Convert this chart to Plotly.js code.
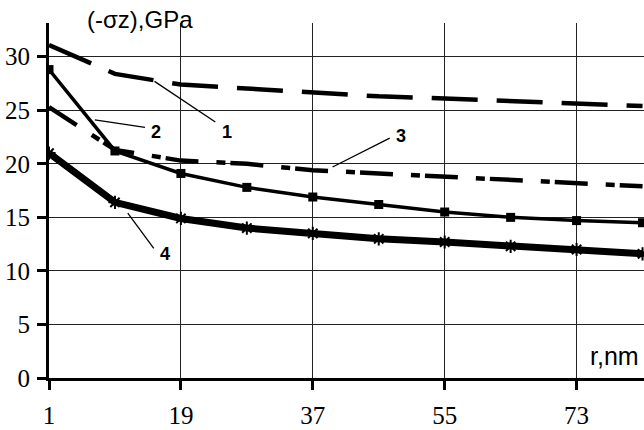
<!DOCTYPE html>
<html>
<head>
<meta charset="utf-8">
<script src="https://cdn.plot.ly/plotly-3.0.1.min.js"></script>
</head>
<body style="margin:0; background:#fff">
<div id="chart"></div>
<script>
// Radius r (nm) sampled every 9 nm
const radius = [1, 10, 19, 28, 37, 46, 55, 64, 73, 82];

// Compressive stress (-σz), GPa, for the four cases
const stress1 = [31.1, 28.4, 27.4, 27.0, 26.6, 26.3, 26.1, 25.9, 25.7, 25.4];
const stress2 = [28.8, 21.2, 19.1, 17.8, 16.9, 16.2, 15.5, 15.0, 14.7, 14.5];
const stress3 = [25.3, 21.3, 20.3, 20.0, 19.4, 19.1, 18.9, 18.5, 18.2, 17.9];
const stress4 = [21.0, 16.4, 14.9, 14.0, 13.5, 13.0, 12.7, 12.3, 12.0, 11.6];

const xTicks = [1, 19, 37, 55, 73];
const yTicks = [0, 5, 10, 15, 20, 25, 30];

// Curve numbers and where their leader lines start/end (data units)
const curveNames = ["1", "2", "3", "4"];
const leaderFrom = [[15.4, 27.7], [7.25, 24.1], [39.7, 19.7], [11.75, 15.4]];
const leaderTo   = [[23.7, 23.9], [14.1, 23.4], [47.5, 22.4], [15.3, 12.1]];
const labelAt    = [[25.3, 23.0], [15.6, 23.0], [49.0, 22.6], [16.8, 11.6]];

const traces = [
  { x: radius, y: stress1, mode: "lines",
    line: { color: "#000", width: 4.5, dash: "46px,19px" } },
  { x: radius, y: stress2, mode: "lines+markers",
    line: { color: "#000", width: 3.5 },
    marker: { symbol: "square", size: 9, color: "#000" } },
  { x: radius, y: stress3, mode: "lines",
    line: { color: "#000", width: 4.5, dash: "33px,18px,9px,5px" } },
  { x: radius, y: stress4, mode: "lines+markers",
    line: { color: "#000", width: 7 },
    marker: { symbol: "asterisk-open", size: 11, color: "#000", line: { width: 2, color: "#000" } } }
];

const shapes = curveNames.map((_, i) => ({
  type: "line", xref: "x", yref: "y",
  x0: leaderFrom[i][0], y0: leaderFrom[i][1],
  x1: leaderTo[i][0], y1: leaderTo[i][1],
  line: { color: "#000", width: 1.3 }
}));

const annotations = curveNames.map((name, i) => ({
  xref: "x", yref: "y", x: labelAt[i][0], y: labelAt[i][1],
  xanchor: "center", yanchor: "middle",
  text: "<b>" + name + "</b>", showarrow: false,
  font: { family: "Liberation Sans", size: 18, color: "#000" }
}));

annotations.push({
  xref: "paper", yref: "paper", x: 0.153, y: 1.01,
  xanchor: "center", yanchor: "middle",
  text: "(-σz),GPa", showarrow: false,
  font: { family: "Liberation Sans", size: 24, color: "#000" }
});
annotations.push({
  xref: "paper", yref: "paper", x: 0.95, y: 0.063,
  xanchor: "center", yanchor: "middle",
  text: "r,nm", showarrow: false,
  font: { family: "Liberation Sans", size: 25, color: "#000" }
});

const layout = {
  width: 644, height: 430,
  margin: { l: 49, r: 0, t: 23, b: 52 },
  paper_bgcolor: "#fff", plot_bgcolor: "#fff",
  showlegend: false,
  xaxis: {
    range: [1, 82.2], tickvals: xTicks,
    tickfont: { family: "Liberation Serif", size: 25, color: "#000" },
    showgrid: true, gridcolor: "#222", gridwidth: 1.4,
    showline: true, linecolor: "#000", linewidth: 3,
    ticks: "outside", ticklen: 9, tickwidth: 2.5, tickcolor: "#000",
    ticklabelstandoff: 4, zeroline: false
  },
  yaxis: {
    range: [0, 33.15], tickvals: yTicks,
    tickfont: { family: "Liberation Serif", size: 25, color: "#000" },
    showgrid: true, gridcolor: "#222", gridwidth: 1.4,
    showline: true, linecolor: "#000", linewidth: 3,
    ticks: "outside", ticklen: 9, tickwidth: 2.5, tickcolor: "#000",
    ticklabelstandoff: 2, zeroline: false
  },
  shapes: shapes,
  annotations: annotations
};

Plotly.newPlot("chart", traces, layout, { displayModeBar: false });
</script>
</body>
</html>
